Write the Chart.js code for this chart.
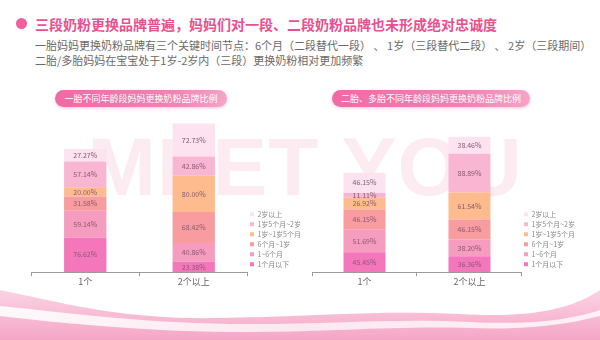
<!DOCTYPE html>
<html>
<head>
<meta charset="utf-8">
<script src="https://cdn.jsdelivr.net/npm/chart.js@4/dist/chart.umd.min.js"></script>
<style>
  html, body { margin: 0; padding: 0; }
  body {
    width: 600px; height: 340px; position: relative; overflow: hidden;
    background: #ffffff;
    font-family: "Noto Sans CJK SC", "Noto Sans", sans-serif;
  }
  .wm {
    position: absolute; left: 0; width: 610px; top: 126px; text-align: center;
    font-family: "Liberation Sans", sans-serif; font-size: 82px; font-weight: bold; letter-spacing: 1px;
    color: #fdebf2; line-height: 1; white-space: nowrap;
  }
  .bullet {
    position: absolute; left: 16px; top: 18px; width: 11px; height: 11px; border-radius: 50%;
    background: #f0609e;
  }
  .headline {
    position: absolute; left: 35px; top: 14px; font-size: 14px; font-weight: bold;
    color: #e9508f; white-space: nowrap; line-height: 20px;
  }
  .note {
    position: absolute; left: 35px; font-size: 11px; color: #6a6a6a; white-space: nowrap; line-height: 14px;
  }
  .pill {
    position: absolute; top: 90px; height: 17px; border-radius: 9px;
    background: linear-gradient(90deg, #ef6aa3 0%, #f383b4 70%, #f7a4c7 100%);
    box-shadow: 0 1px 3px rgba(230, 90, 150, 0.35);
    color: #ffffff; font-size: 9px; line-height: 17px; text-align: center; white-space: nowrap;
  }
  canvas { position: absolute; }
  svg.wave { position: absolute; left: 0; top: 280px; }
</style>
</head>
<body>
<svg class="wave" width="600" height="60" viewBox="0 0 600 60">
  <defs>
    <linearGradient id="wg" x1="0" y1="0" x2="0" y2="1">
      <stop offset="0" stop-color="#fbd3e3"/>
      <stop offset="1" stop-color="#f5a6c6"/>
    </linearGradient>
    <linearGradient id="wg2" x1="0" y1="0" x2="1" y2="0">
      <stop offset="0" stop-color="#ffffff" stop-opacity="0.9"/>
      <stop offset="0.5" stop-color="#fdeef4" stop-opacity="0.9"/>
      <stop offset="1" stop-color="#ffffff" stop-opacity="0.8"/>
    </linearGradient>
  </defs>
  <path d="M0,10 C60,22 120,40 220,38 C320,36 380,30 460,34 C530,38 570,30 600,10 L600,60 L0,60 Z" fill="url(#wg)"/>
  <path d="M0,26 C80,34 150,44 250,44 C330,44 400,38 470,42 C530,45 570,40 600,30 L600,36 C560,46 520,50 470,48 C390,46 330,52 250,52 C150,52 70,44 0,36 Z" fill="url(#wg2)"/>
</svg>

<div class="wm">MEET YOU</div>

<div class="bullet"></div>
<div class="headline">三段奶粉更换品牌普遍，妈妈们对一段、二段奶粉品牌也未形成绝对忠诚度</div>
<div class="note" style="top:38px">一胎妈妈更换奶粉品牌有三个关键时间节点：6个月（二段替代一段） 、 1岁（三段替代二段） 、 2岁（三段期间）</div>
<div class="note" style="top:53px">二胎/多胎妈妈在宝宝处于1岁-2岁内（三段）更换奶粉相对更加频繁</div>

<div class="pill" style="left:55px; width:172px">一胎不同年龄段妈妈更换奶粉品牌比例</div>
<div class="pill" style="left:332px; width:198px">二胎、多胎不同年龄段妈妈更换奶粉品牌比例</div>

<canvas id="left" width="312" height="190" style="left:0; top:100px; width:312px; height:190px"></canvas>
<canvas id="right" width="295" height="190" style="left:305px; top:100px; width:295px; height:190px"></canvas>

<script>
// Number of children the mother has
const categories = ['1个', '2个以上'];

// Baby's age when the formula brand was changed (stack order, bottom to top)
const ageGroups = ['1个月以下', '1~6个月', '6个月~1岁', '1岁~1岁5个月', '1岁5个月~2岁', '2岁以上'];
const ageColors = ['#f577bb', '#f59cbf', '#f89c9f', '#fdbb8e', '#f9b6d3', '#fce3ef'];

// First-time mothers: share per age group (%)
const firstBornOne     = [76.62, 59.14, 31.58, 20.00, 57.14, 27.27];
const firstBornTwoPlus = [23.38, 40.86, 68.42, 80.00, 42.86, 72.73];

// Mothers of a second / later child: share per age group (%)
const laterBornOne     = [45.45, 51.69, 46.15, 26.92, 11.11, 46.15];
const laterBornTwoPlus = [36.36, 38.20, 46.15, 61.54, 88.89, 38.46];

const FONT = '"Noto Sans CJK SC", "Noto Sans", sans-serif';

// Writes each segment's percentage in its middle
const segmentLabels = {
  id: 'segmentLabels',
  afterDatasetsDraw(chart) {
    const ctx = chart.ctx;
    ctx.save();
    ctx.font = '7px ' + FONT;
    ctx.textAlign = 'center';
    ctx.textBaseline = 'middle';
    ctx.fillStyle = '#8a5872';
    chart.data.datasets.forEach((ds, i) => {
      chart.getDatasetMeta(i).data.forEach((bar, j) => {
        const v = ds.data[j];
        ctx.fillText(v.toFixed(2) + '%', bar.x, (bar.y + bar.base) / 2);
      });
    });
    ctx.restore();
  }
};

// Keeps the legend column next to the plot, its last row just above the axis
const legendBeside = {
  id: 'legendBeside',
  afterLayout(chart) {
    const lg = chart.legend;
    const area = chart.chartArea;
    const dy = lg.bottom - (area.bottom - 1.5);
    lg.top -= dy; lg.bottom -= dy;
    const dx = lg.left - (area.right - 1);
    lg.left -= dx; lg.right -= dx;
  }
};

function buildChart(id, oneChild, twoPlus, yMax, padding, barPct) {
  const datasets = ageGroups.map((name, i) => ({
    label: name,
    data: [oneChild[i], twoPlus[i]],
    backgroundColor: ageColors[i],
    borderWidth: 0,
    barPercentage: barPct,
    categoryPercentage: 1
  }));
  return new Chart(document.getElementById(id), {
    type: 'bar',
    data: { labels: categories, datasets },
    plugins: [segmentLabels, legendBeside],
    options: {
      responsive: false,
      animation: false,
      layout: { padding },
      plugins: {
        tooltip: { enabled: false },
        legend: {
          position: 'right',
          align: 'end',
          reverse: true,
          labels: {
            boxWidth: 4, boxHeight: 4, padding: 3,
            color: '#8a8a8a',
            font: { size: 7, family: FONT }
          }
        }
      },
      scales: {
        x: {
          stacked: true,
          border: { display: true, color: '#9a9a9a', width: 1 },
          grid: { display: true, drawOnChartArea: false, drawTicks: true, tickLength: 4, color: '#9a9a9a', offset: true },
          ticks: { color: '#666666', padding: 0, font: { size: 9, family: FONT } }
        },
        y: {
          stacked: true, display: false, min: 0, max: yMax
        }
      }
    }
  });
}

buildChart('left', firstBornOne, firstBornTwoPlus, 358, { left: 31, top: 10, right: 0, bottom: 3 }, 0.39);
buildChart('right', laterBornOne, laterBornTwoPlus, 371, { left: 7, top: 10, right: 14, bottom: 3 }, 0.40);
</script>
</body>
</html>
